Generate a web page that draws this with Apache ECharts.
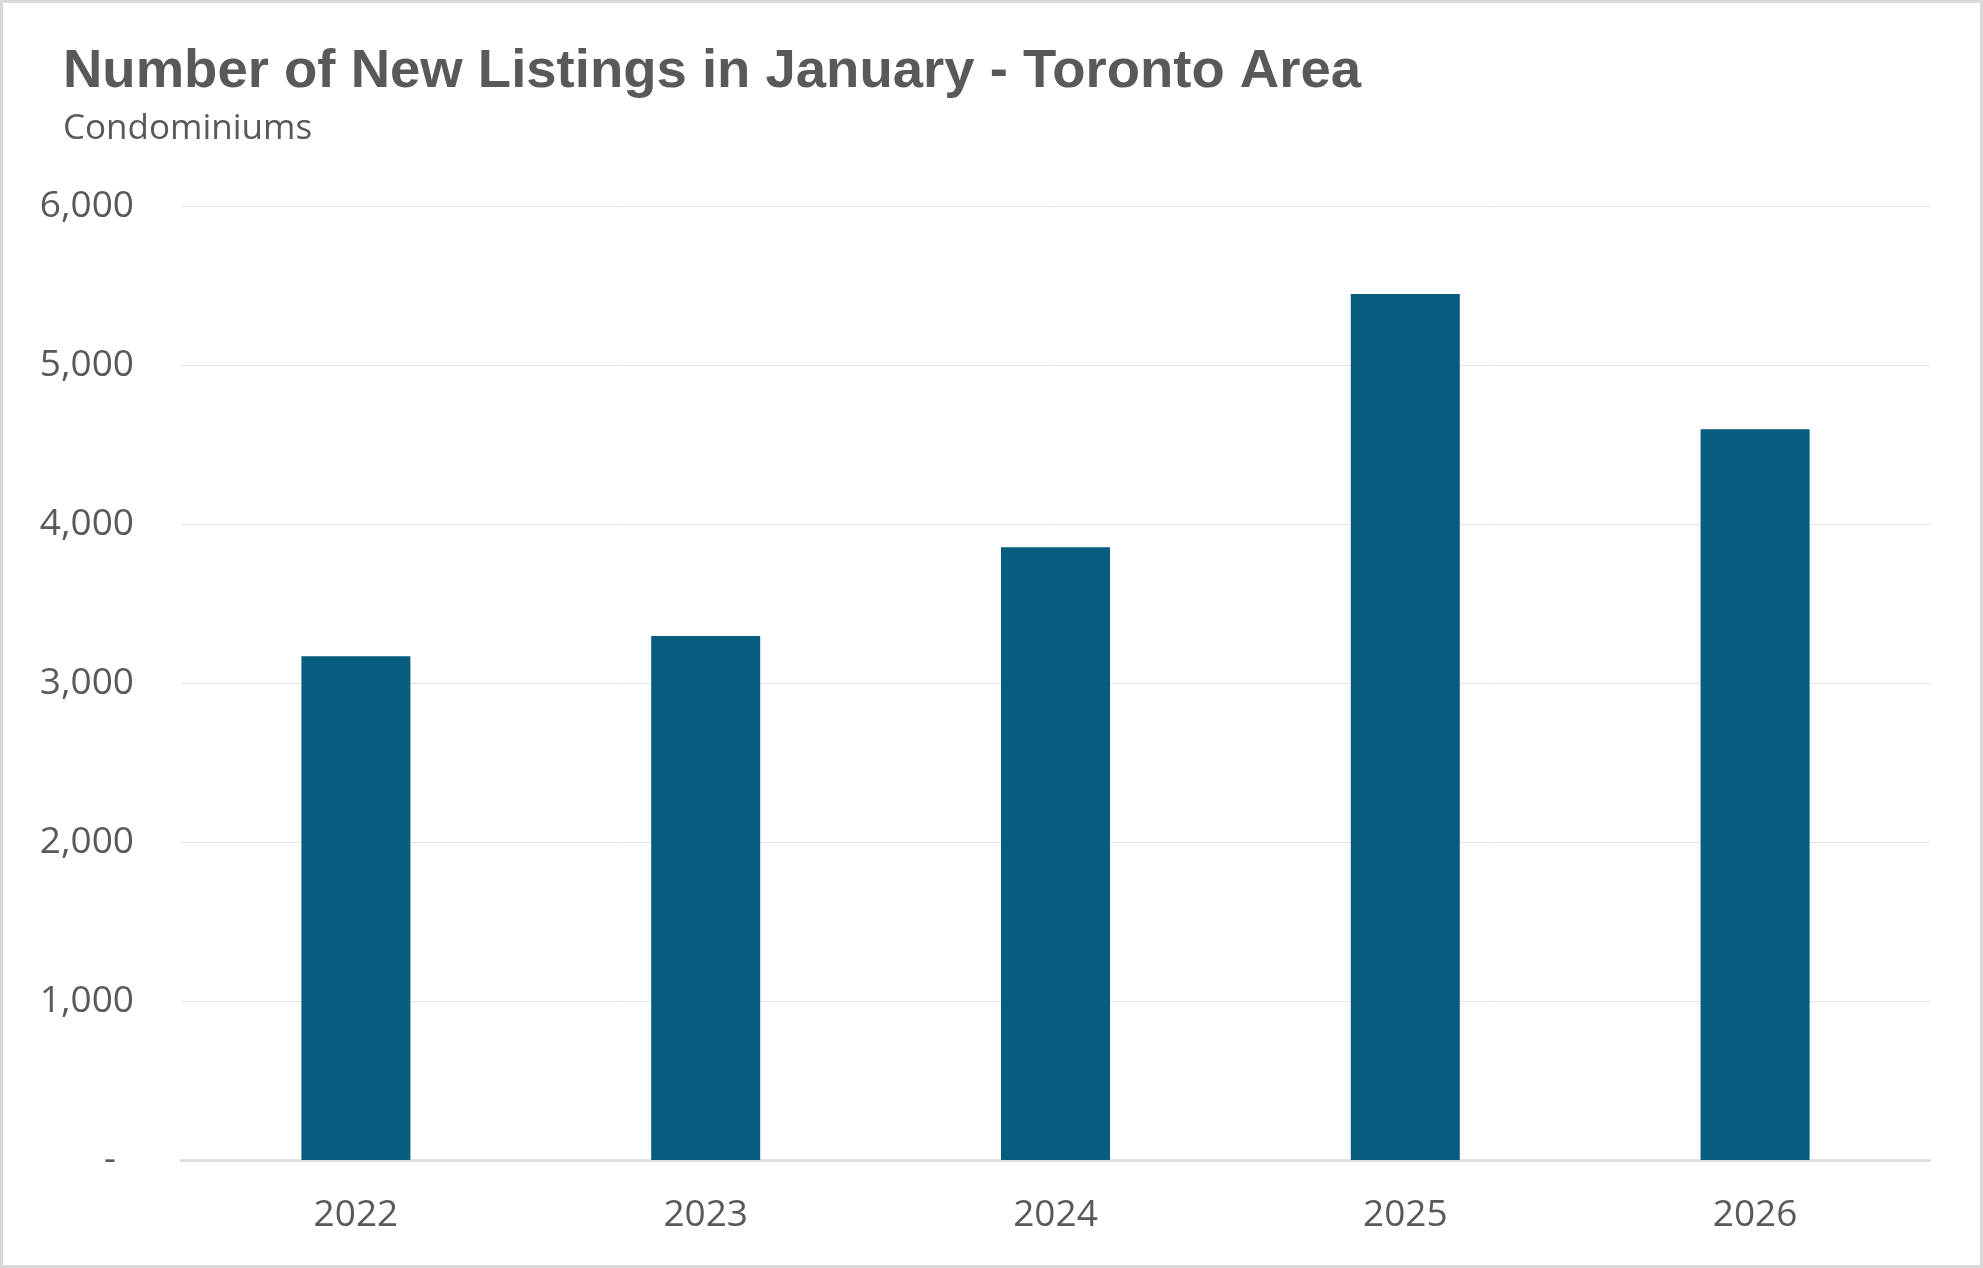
<!DOCTYPE html>
<html>
<head>
<meta charset="utf-8">
<script src="https://cdn.jsdelivr.net/npm/echarts@6/dist/echarts.min.js"></script>
<style>
html,body{margin:0;padding:0;background:#fff;}
#chart{width:1983px;height:1268px;}
</style>
</head>
<body>
<div id="chart"></div>
<script>
const titleText = 'Number of New Listings in January - Toronto Area';
const subtitleText = 'Condominiums';
const categories = ['2022', '2023', '2024', '2025', '2026'];
const newListings = [3169, 3295, 3853, 5447, 4596];
const yTicks = { min: 0, max: 6000, interval: 1000 };

const chart = echarts.init(document.getElementById('chart'), null, { renderer: 'canvas' });
chart.setOption({
  backgroundColor: '#ffffff',
  animation: false,
  title: [
    {
      text: titleText,
      left: 63, top: 45, padding: 0,
      textStyle: { fontFamily: 'Liberation Sans, Arial, sans-serif', fontWeight: 'bold', fontSize: 54.5, lineHeight: 54.5, color: '#595959' }
    },
    {
      text: subtitleText,
      left: 63, top: 112, padding: 0,
      textStyle: { fontFamily: 'Open Sans, sans-serif', fontWeight: 'normal', fontSize: 35, lineHeight: 35, color: '#595959' }
    }
  ],
  graphic: [{
    type: 'rect', silent: true,
    shape: { x: 1.5, y: 1.5, width: 1980, height: 1265 },
    style: { fill: 'none', stroke: '#d9d9d9', lineWidth: 3 }
  }],
  grid: { left: 181, right: 53, top: 206, bottom: 108, containLabel: false },
  xAxis: {
    type: 'category',
    data: categories,
    axisLine: { show: true, lineStyle: { color: '#d9d9d9', width: 2.5 } },
    axisTick: { show: false },
    axisLabel: { margin: 37, fontFamily: 'Open Sans, sans-serif', fontSize: 37, color: '#595959' }
  },
  yAxis: {
    type: 'value',
    min: yTicks.min, max: yTicks.max, interval: yTicks.interval,
    axisLine: { show: false },
    axisTick: { show: false },
    splitLine: { show: true, lineStyle: { color: '#e3e3e3', width: 1 } },
    axisLabel: {
      margin: 47,
      fontFamily: 'Open Sans, sans-serif', fontSize: 37, color: '#595959',
      formatter: function (v) { return v === 0 ? '{d|-}' : v.toLocaleString('en-US'); },
      rich: { d: { fontFamily: 'Open Sans, sans-serif', fontSize: 37, color: '#595959', padding: [0, 18, 0, 0] } }
    }
  },
  series: [{
    type: 'bar',
    data: newListings,
    barWidth: 109,
    itemStyle: { color: '#075d7e' }
  }]
});
</script>
</body>
</html>
